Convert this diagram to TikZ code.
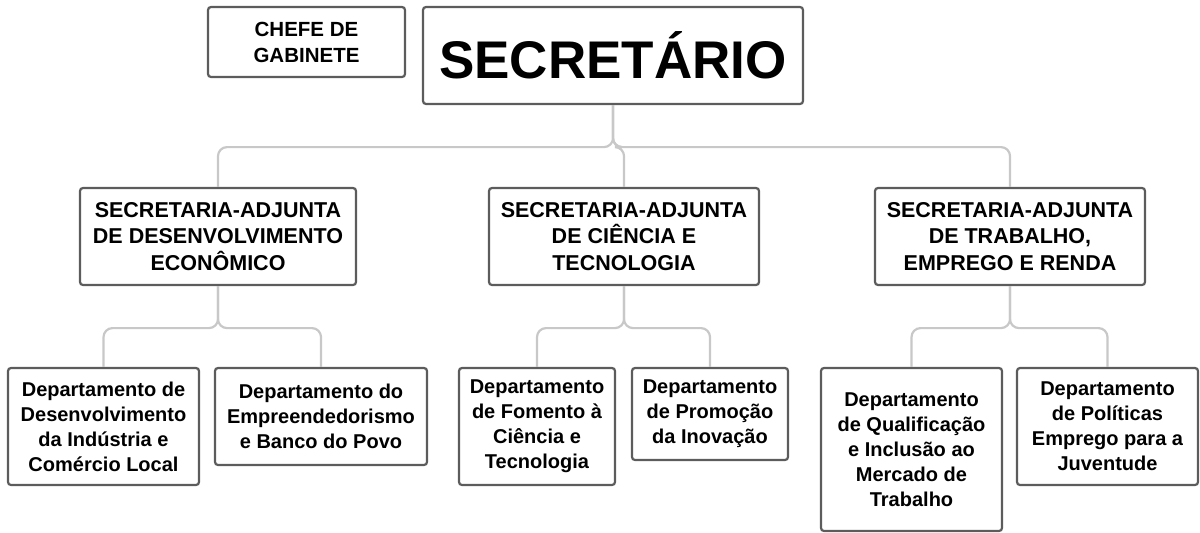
\documentclass[tikz,border=0pt]{standalone}
\usepackage{fontspec}
\setmainfont{Liberation Sans}
\definecolor{boxline}{HTML}{5C5C5C}
\definecolor{connline}{HTML}{C8C8C8}
\begin{document}
\begin{tikzpicture}[x=1pt,y=-1pt,
  box/.style={draw=boxline, line width=2.2pt, rounded corners=3pt, fill=white,
    align=center, inner sep=0pt, font=\bfseries\fontsize{21.5}{26.5}\selectfont},
  dept/.style={box, font=\bfseries\fontsize{20}{25}\selectfont},
  conn/.style={draw=connline, line width=2.2pt, rounded corners=9pt}]
\useasboundingbox (0,0) rectangle (1200,533);
% level 0
\node[box, minimum width=197pt, minimum height=70pt, font=\bfseries\fontsize{20.5}{26}\selectfont] (chefe) at (306.5,42) {CHEFE DE\\GABINETE};
\node[box, minimum width=380pt, minimum height=97pt, font=\bfseries\fontsize{53}{60}\selectfont] (sec) at (613,55.5) {SECRETÁRIO};
% level 1
\node[box, minimum width=276pt, minimum height=97pt] (sa1) at (218,236.5) {SECRETARIA-ADJUNTA\\DE DESENVOLVIMENTO\\ECONÔMICO};
\node[box, minimum width=270pt, minimum height=97pt] (sa2) at (624,236.5) {SECRETARIA-ADJUNTA\\DE CIÊNCIA E\\TECNOLOGIA};
\node[box, minimum width=270pt, minimum height=97pt] (sa3) at (1010,236.5) {SECRETARIA-ADJUNTA\\DE TRABALHO,\\EMPREGO E RENDA};
% level 2
\node[dept, minimum width=191pt, minimum height=117pt] (d1) at (103.5,426.5) {Departamento de\\Desenvolvimento\\da Indústria e\\Comércio Local};
\node[dept, minimum width=212pt, minimum height=97pt] (d2) at (321,416.5) {Departamento do\\Empreendedorismo\\e Banco do Povo};
\node[dept, minimum width=156pt, minimum height=117pt] (d3) at (537,426.5) {Departamento\\de Fomento à\\Ciência e\\Tecnologia};
\node[dept, minimum width=156pt, minimum height=92pt] (d4) at (710,414) {Departamento\\de Promoção\\da Inovação};
\node[dept, minimum width=181pt, minimum height=163pt] (d5) at (911.5,449.5) {Departamento\\de Qualificação\\e Inclusão ao\\Mercado de\\Trabalho};
\node[dept, minimum width=181pt, minimum height=117pt] (d6) at (1107.5,426.5) {Departamento\\de Políticas\\Emprego para a\\Juventude};
% connectors level 0 -> 1
\draw[conn] (sec.south) -- ++(0,42) -| (sa1.north);
\draw[conn] (sec.south) -- ++(0,42) -| (sa2.north);
\draw[conn] (sec.south) -- ++(0,42) -| (sa3.north);
% connectors level 1 -> 2
\draw[conn] (sa1.south) -- ++(0,42) -| (d1.north);
\draw[conn] (sa1.south) -- ++(0,42) -| (d2.north);
\draw[conn] (sa2.south) -- ++(0,42) -| (d3.north);
\draw[conn] (sa2.south) -- ++(0,42) -| (d4.north);
\draw[conn] (sa3.south) -- ++(0,42) -| (d5.north);
\draw[conn] (sa3.south) -- ++(0,42) -| (d6.north);
\end{tikzpicture}
\end{document}
